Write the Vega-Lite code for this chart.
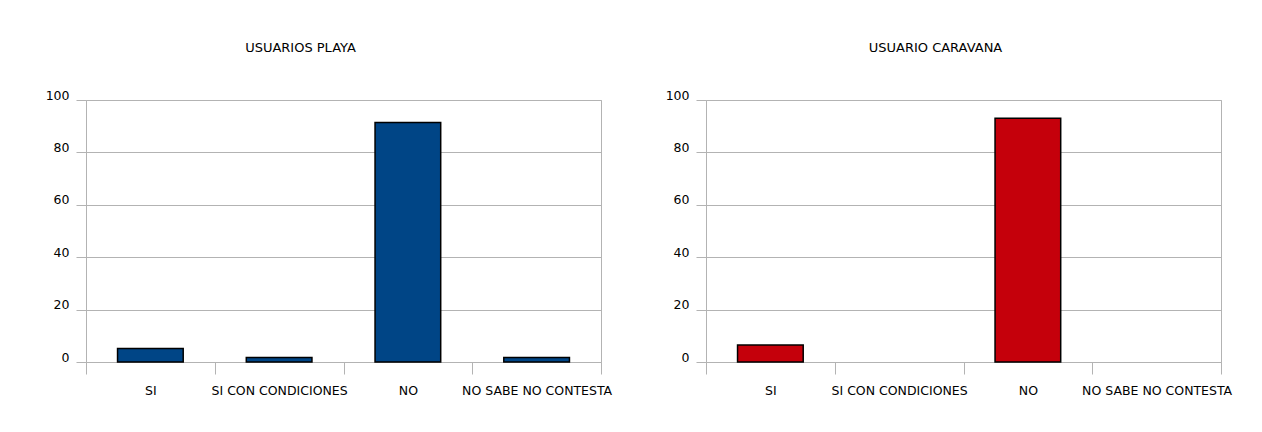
{
  "$schema": "https://vega.github.io/schema/vega-lite/v6.json",
  "background": "white",
  "padding": {"left": 44, "top": 41, "right": 0, "bottom": 0},
  "spacing": 51,
  "datasets": {
    "playa": [
      {"respuesta": "SI", "valor": 5.2},
      {"respuesta": "SI CON CONDICIONES", "valor": 1.7},
      {"respuesta": "NO", "valor": 91.4},
      {"respuesta": "NO SABE NO CONTESTA", "valor": 1.7}
    ],
    "caravana": [
      {"respuesta": "SI", "valor": 6.5},
      {"respuesta": "SI CON CONDICIONES", "valor": 0},
      {"respuesta": "NO", "valor": 93.0},
      {"respuesta": "NO SABE NO CONTESTA", "valor": 0}
    ]
  },
  "hconcat": [
    {
      "width": 515,
      "height": 262,
      "data": {"name": "playa"},
      "title": {"text": "USUARIOS PLAYA", "dx": -43},
      "mark": {"type": "bar", "width": {"band": 0.51}, "color": "#004586", "stroke": "#000000"},
      "encoding": {
        "x": {
          "field": "respuesta", "type": "nominal",
          "sort": ["SI", "SI CON CONDICIONES", "NO", "NO SABE NO CONTESTA"],
          "scale": {"paddingInner": 0, "paddingOuter": 0},
          "axis": {"title": null}
        },
        "y": {
          "field": "valor", "type": "quantitative",
          "scale": {"domain": [0, 100], "nice": false},
          "axis": {"title": null, "values": [0, 20, 40, 60, 80, 100]}
        },
        "strokeWidth": {"condition": {"test": "datum.valor > 0", "value": 1.5}, "value": 0}
      }
    },
    {
      "width": 515,
      "height": 262,
      "data": {"name": "caravana"},
      "title": {"text": "USUARIO CARAVANA", "dx": -28},
      "mark": {"type": "bar", "width": {"band": 0.51}, "color": "#C5000B", "stroke": "#000000"},
      "encoding": {
        "x": {
          "field": "respuesta", "type": "nominal",
          "sort": ["SI", "SI CON CONDICIONES", "NO", "NO SABE NO CONTESTA"],
          "scale": {"paddingInner": 0, "paddingOuter": 0},
          "axis": {"title": null}
        },
        "y": {
          "field": "valor", "type": "quantitative",
          "scale": {"domain": [0, 100], "nice": false},
          "axis": {"title": null, "values": [0, 20, 40, 60, 80, 100]}
        },
        "strokeWidth": {"condition": {"test": "datum.valor > 0", "value": 1.5}, "value": 0}
      }
    }
  ],
  "config": {
    "font": "DejaVu Sans",
    "view": {"stroke": "#b3b3b3", "strokeWidth": 1},
    "title": {"fontSize": 13, "fontWeight": "normal", "color": "#000000", "anchor": "middle", "offset": 34},
    "axis": {
      "labelFont": "DejaVu Sans",
      "labelFontSize": 12.5,
      "labelColor": "#000000",
      "domain": false,
      "tickColor": "#b3b3b3",
      "gridColor": "#b3b3b3",
      "gridOpacity": 1
    },
    "axisY": {"tickSize": 10, "labelPadding": 7, "labelOffset": -5, "grid": true},
    "axisX": {"tickSize": 12, "tickBand": "extent", "labelPadding": 10, "labelAngle": 0, "labelOverlap": false, "grid": false}
  }
}
